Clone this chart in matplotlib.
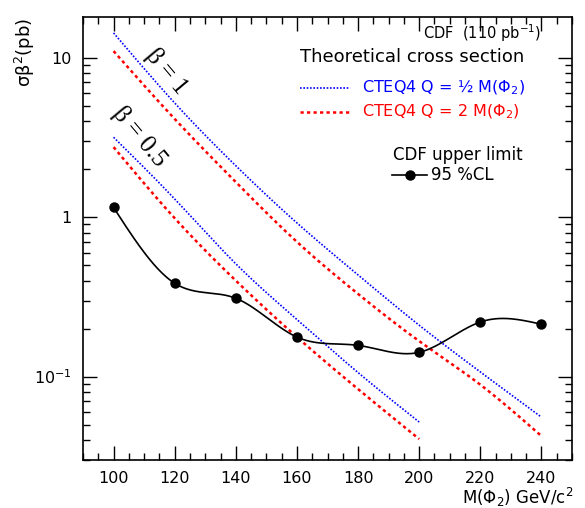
import numpy as np
import matplotlib
matplotlib.use("Agg")
import matplotlib.pyplot as plt
from matplotlib.lines import Line2D
from matplotlib.ticker import FixedLocator, NullFormatter, FuncFormatter

# ---- data ----
mass_limit = [100, 120, 140, 160, 180, 200, 220, 240]
limit_95cl = [1.15, 0.385, 0.31, 0.177, 0.157, 0.142, 0.22, 0.213]

mass_b1 = [100, 120, 140, 160, 180, 200, 220, 240]
b1_half = [14.3, 5.20, 2.10, 0.92, 0.434, 0.21, 0.107, 0.0557]
b1_two = [11.0, 4.13, 1.66, 0.70, 0.33, 0.167, 0.089, 0.0424]

mass_b05 = [100, 120, 140, 160, 180, 200]
b05_half = [3.17, 1.30, 0.51, 0.228, 0.106, 0.0519]
b05_two = [2.75, 0.985, 0.40, 0.177, 0.0835, 0.0406]

xticks_major = [100, 120, 140, 160, 180, 200, 220, 240]


def natural_spline(x, y, n=300):
    x = np.asarray(x, float)
    y = np.asarray(y, float)
    m = len(x)
    h = np.diff(x)
    A = np.zeros((m, m))
    b = np.zeros(m)
    A[0, 0] = 1
    A[-1, -1] = 1
    for i in range(1, m - 1):
        A[i, i - 1] = h[i - 1]
        A[i, i] = 2 * (h[i - 1] + h[i])
        A[i, i + 1] = h[i]
        b[i] = 6 * ((y[i + 1] - y[i]) / h[i] - (y[i] - y[i - 1]) / h[i - 1])
    M = np.linalg.solve(A, b)
    xs = np.linspace(x[0], x[-1], n)
    idx = np.clip(np.searchsorted(x, xs) - 1, 0, m - 2)
    x0, x1 = x[idx], x[idx + 1]
    y0, y1 = y[idx], y[idx + 1]
    M0, M1 = M[idx], M[idx + 1]
    hh = x1 - x0
    ys = (M0 * (x1 - xs) ** 3 / (6 * hh) + M1 * (xs - x0) ** 3 / (6 * hh)
          + (y0 / hh - M0 * hh / 6) * (x1 - xs) + (y1 / hh - M1 * hh / 6) * (xs - x0))
    return xs, ys


def smooth_log(x, y):
    xs, ly = natural_spline(x, np.log10(y))
    return xs, 10 ** ly


W, H = 585, 508
fig = plt.figure(figsize=(W / 100, H / 100), dpi=100)
ax = fig.add_axes([83 / W, 1 - 460 / H, (572 - 83) / W, (460 - 17) / H])
ax.set_yscale("log")
ax.set_xlim(90, 250)
ax.set_ylim(0.03, 18)

blue = "#0000ff"
red = "#ff0000"
dot = (0, (1, 1))
dash = (0, (1.3, 1.3))

for xx, yy in [(mass_b1, b1_half), (mass_b05, b05_half)]:
    xs, ys = smooth_log(xx, yy)
    ax.plot(xs, ys, color=blue, lw=1.2, linestyle=dot)
for xx, yy in [(mass_b1, b1_two), (mass_b05, b05_two)]:
    xs, ys = smooth_log(xx, yy)
    ax.plot(xs, ys, color=red, lw=1.8, linestyle=dash)

xs, ys = smooth_log(mass_limit, limit_95cl)
ax.plot(xs, ys, color="black", lw=1.2)
ax.plot(mass_limit, limit_95cl, "o", color="black", ms=6.5)

# ticks
ax.xaxis.set_major_locator(FixedLocator(xticks_major))
ax.xaxis.set_minor_locator(FixedLocator(np.arange(90, 251, 5)))
ax.set_yticks([0.1, 1, 10])
ax.yaxis.set_major_formatter(FuncFormatter(
    lambda v, p: {0.1: r"$\mathregular{10^{-1}}$", 1: "1", 10: "10"}.get(round(v, 3), "")))
ax.yaxis.set_minor_locator(FixedLocator(
    [k * 10.0 ** e for e in (-2, -1, 0, 1) for k in range(2, 10)]))
ax.yaxis.set_minor_formatter(NullFormatter())
ax.tick_params(which="both", direction="in", top=True, right=True, labelsize=11.5, width=1)
ax.tick_params(which="major", length=10)
ax.tick_params(which="minor", length=5)
ax.tick_params(axis="x", pad=8)
ax.tick_params(axis="y", pad=8)
for s in ax.spines.values():
    s.set_linewidth(1.2)


def fx(px):
    return px / W


def fy(py):
    return 1 - py / H


fig.text(fx(25), fy(18), r"$\mathregular{\sigma\beta^2(pb)}$", rotation=90,
         ha="center", va="top", fontsize=13)
fig.text(fx(573), fy(497), r"M($\mathregular{\Phi_2}$) GeV/c$^\mathregular{2}$",
         ha="right", va="center", fontsize=12)

fig.text(fx(423), fy(33), r"CDF  (110 pb$^\mathregular{-1}$)", ha="left", va="center", fontsize=10.5)
fig.text(fx(300), fy(57), "Theoretical cross section", ha="left", va="center", fontsize=13)
fig.add_artist(Line2D([fx(300), fx(350)], [fy(88), fy(88)], color=blue, lw=1.2, linestyle=dot))
fig.text(fx(362), fy(88), r"CTEQ4 Q = ½ M($\mathregular{\Phi_2}$)", color=blue,
         ha="left", va="center", fontsize=11.5)
fig.add_artist(Line2D([fx(300), fx(350)], [fy(112), fy(112)], color=red, lw=1.8, linestyle=dash))
fig.text(fx(362), fy(112), r"CTEQ4 Q = 2 M($\mathregular{\Phi_2}$)", color=red,
         ha="left", va="center", fontsize=11.5)
fig.text(fx(393), fy(155), "CDF upper limit", ha="left", va="center", fontsize=12)
fig.add_artist(Line2D([fx(392), fx(427)], [fy(175), fy(175)], color="black", lw=1.2))
fig.add_artist(Line2D([fx(410)], [fy(175)], color="black", marker="o", ms=6.5))
fig.text(fx(431), fy(175), "95 %CL", ha="left", va="center", fontsize=12)

fig.text(fx(166), fy(71), "β = 1", rotation=-50, ha="center", va="center",
         fontsize=18, family="Liberation Serif")
fig.text(fx(140), fy(137), "β = 0.5", rotation=-50, ha="center", va="center",
         fontsize=18, family="Liberation Serif")

fig.savefig("out.png", dpi=100)
